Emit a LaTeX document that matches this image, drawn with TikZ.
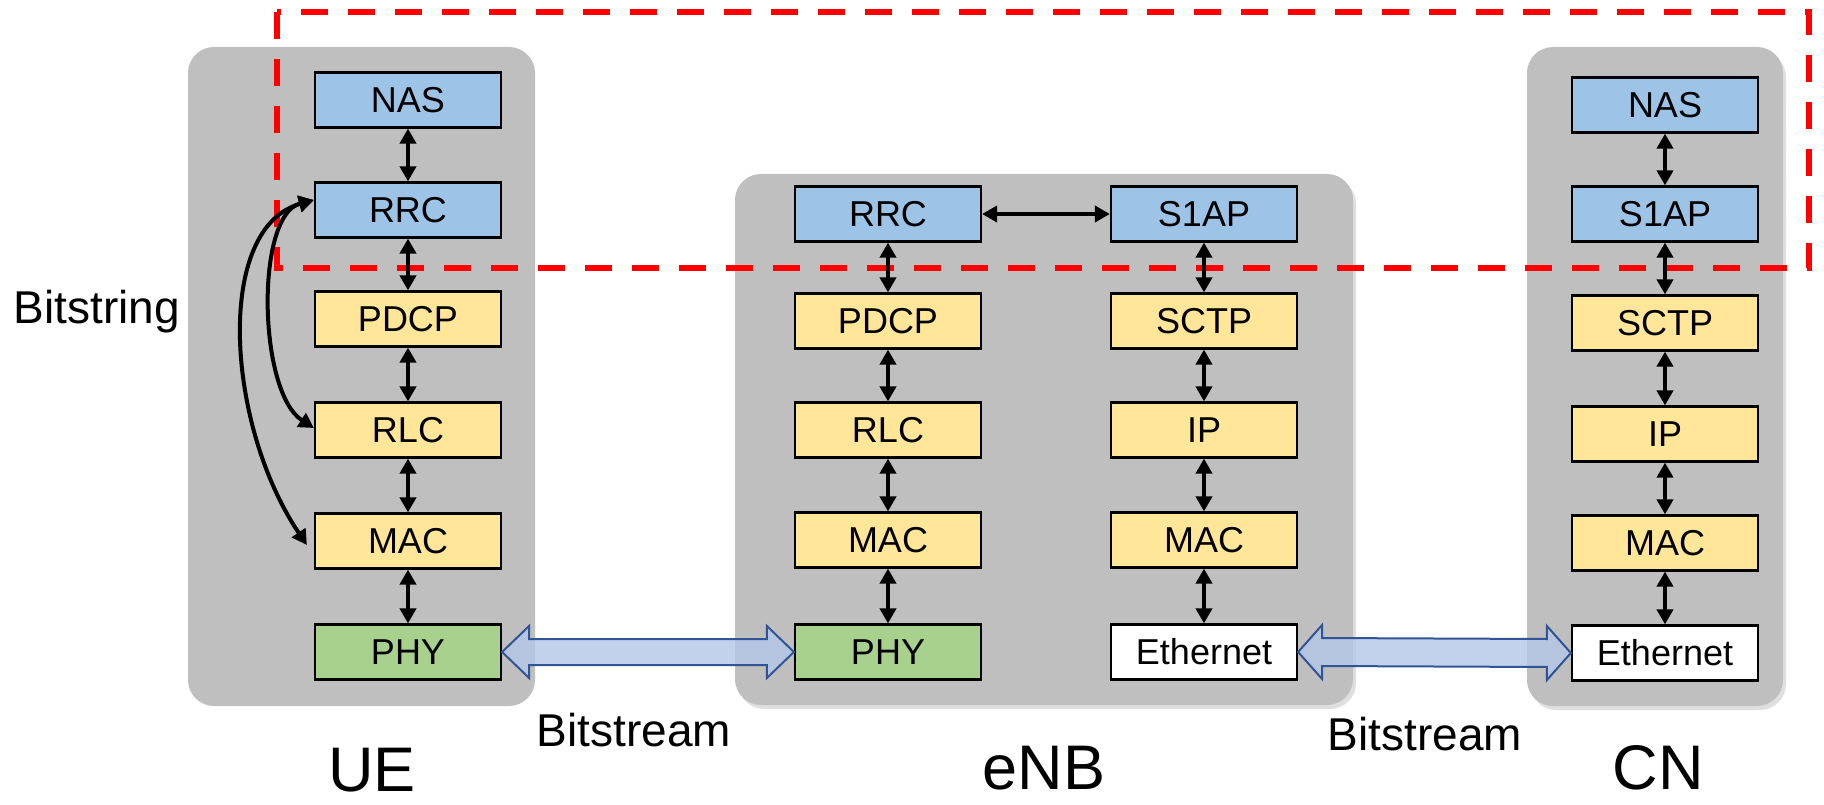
\documentclass[tikz,border=0pt]{standalone}
\usepackage{fontspec}
\setmainfont{Liberation Sans}
\usetikzlibrary{arrows.meta,calc,shadows}

\definecolor{panelgray}{HTML}{BFBFBF}
\definecolor{ctrlblue}{HTML}{9DC3E6}
\definecolor{useryellow}{HTML}{FFE699}
\definecolor{phygreen}{HTML}{A9D18E}
\definecolor{linkfill}{HTML}{B4C7E7}
\definecolor{linkedge}{HTML}{2F5597}

\tikzset{
  panel/.style={fill=panelgray, rounded corners=26pt},
  layerbox/.style={draw=black, line width=2.2pt, minimum width=186pt, minimum height=55pt,
    inner sep=0pt, font=\fontsize{36}{40}\selectfont},
  ctrl/.style={layerbox, fill=ctrlblue},
  userplane/.style={layerbox, fill=useryellow},
  phys/.style={layerbox, fill=phygreen},
  wire/.style={layerbox, fill=white},
  duplex/.style={line width=4pt, {Triangle[length=15pt,width=16pt]}-{Triangle[length=15pt,width=16pt]}},
  pipe/.style={draw=linkedge, line width=2pt, fill=linkfill, fill opacity=0.8, line join=miter},
  cutline/.style={draw=red, line width=6pt, dash pattern=on 27pt off 20pt},
  tagtext/.style={font=\fontsize{46}{52}\selectfont},
  bigtag/.style={font=\fontsize{63}{70}\selectfont}
}

\begin{document}
\begin{tikzpicture}[x=1pt,y=-1pt]
\useasboundingbox (0,0) rectangle (1824,805);

% entity panels
\fill[panel] (188,47) rectangle (535,706);
\fill[panel, drop shadow={opacity=0.25, shadow xshift=3pt, shadow yshift=-4pt}] (735,174) rectangle (1353,705);
\fill[panel, drop shadow={opacity=0.25, shadow xshift=3pt, shadow yshift=-4pt}] (1527,47) rectangle (1783,706);

% control-plane boundary
\draw[cutline] (277,12) rectangle (1809,268);

% UE stack
\node[ctrl] (ue-nas) at (408,100) {NAS};
\node[ctrl] (ue-rrc) at (408,210) {RRC};
\node[userplane] (ue-pdcp) at (408,319) {PDCP};
\node[userplane] (ue-rlc) at (408,430) {RLC};
\node[userplane] (ue-mac) at (408,541) {MAC};
\node[phys] (ue-phy) at (408,652) {PHY};

% eNB radio stack
\node[ctrl] (enb-rrc) at (888,214) {RRC};
\node[userplane] (enb-pdcp) at (888,321) {PDCP};
\node[userplane] (enb-rlc) at (888,430) {RLC};
\node[userplane] (enb-mac) at (888,540) {MAC};
\node[phys] (enb-phy) at (888,652) {PHY};

% eNB backhaul stack
\node[ctrl] (enb-s1ap) at (1204,214) {S1AP};
\node[userplane] (enb-sctp) at (1204,321) {SCTP};
\node[userplane] (enb-ip) at (1204,430) {IP};
\node[userplane] (enb-mac2) at (1204,540) {MAC};
\node[wire] (enb-eth) at (1204,652) {Ethernet};

% CN stack
\node[ctrl] (cn-nas) at (1665,105) {NAS};
\node[ctrl] (cn-s1ap) at (1665,214) {S1AP};
\node[userplane] (cn-sctp) at (1665,323) {SCTP};
\node[userplane] (cn-ip) at (1665,434) {IP};
\node[userplane] (cn-mac) at (1665,543) {MAC};
\node[wire] (cn-eth) at (1665,653) {Ethernet};

% adjacent layer links
\draw[duplex] (ue-nas) -- (ue-rrc);
\draw[duplex] (ue-rrc) -- (ue-pdcp);
\draw[duplex] (ue-pdcp) -- (ue-rlc);
\draw[duplex] (ue-rlc) -- (ue-mac);
\draw[duplex] (ue-mac) -- (ue-phy);

\draw[duplex] (enb-rrc) -- (enb-pdcp);
\draw[duplex] (enb-pdcp) -- (enb-rlc);
\draw[duplex] (enb-rlc) -- (enb-mac);
\draw[duplex] (enb-mac) -- (enb-phy);
\draw[duplex] (enb-rrc) -- (enb-s1ap);

\draw[duplex] (enb-s1ap) -- (enb-sctp);
\draw[duplex] (enb-sctp) -- (enb-ip);
\draw[duplex] (enb-ip) -- (enb-mac2);
\draw[duplex] (enb-mac2) -- (enb-eth);

\draw[duplex] (cn-nas) -- (cn-s1ap);
\draw[duplex] (cn-s1ap) -- (cn-sctp);
\draw[duplex] (cn-sctp) -- (cn-ip);
\draw[duplex] (cn-ip) -- (cn-mac);
\draw[duplex] (cn-mac) -- (cn-eth);

% RRC shortcuts carrying the bitstring
\draw[duplex] ($(ue-rrc.west)+(0,-10)$) .. controls (255,215) and (258,392) .. ($(ue-rlc.west)+(0,-2)$);
\draw[duplex] ($(ue-rrc.west)+(0,-10)$) .. controls (214,228) and (226,425) .. ($(ue-mac.west)+(-7,4)$);

% physical links
\draw[pipe] (ue-phy.east) -- ++(27,-26) -- ++(0,13) -- ($(enb-phy.west)+(-27,-13)$) -- ++(0,-13)
  -- (enb-phy.west) -- ++(-27,26) -- ++(0,-13) -- ($(ue-phy.east)+(27,13)$) -- ++(0,13) -- cycle;
\draw[pipe] (enb-eth.east) -- ++(24,-27) -- ++(0,13) -- ($(cn-eth.west)+(-24,-14)$) -- ++(0,-13)
  -- (cn-eth.west) -- ++(-24,27) -- ++(0,-13) -- ($(enb-eth.east)+(24,14)$) -- ++(0,13) -- cycle;

% labels
\node[tagtext] (bitstring) at (97,312) {Bitstring};
\node[tagtext] (bitstream-a) at (634,730) {Bitstream};
\node[tagtext] (bitstream-b) at (1425,734) {Bitstream};
\node[bigtag] (ue-name) at (372,770) {UE};
\node[bigtag] (enb-name) at (1044,768) {eNB};
\node[bigtag] (cn-name) at (1658,768) {CN};
\end{tikzpicture}
\end{document}
